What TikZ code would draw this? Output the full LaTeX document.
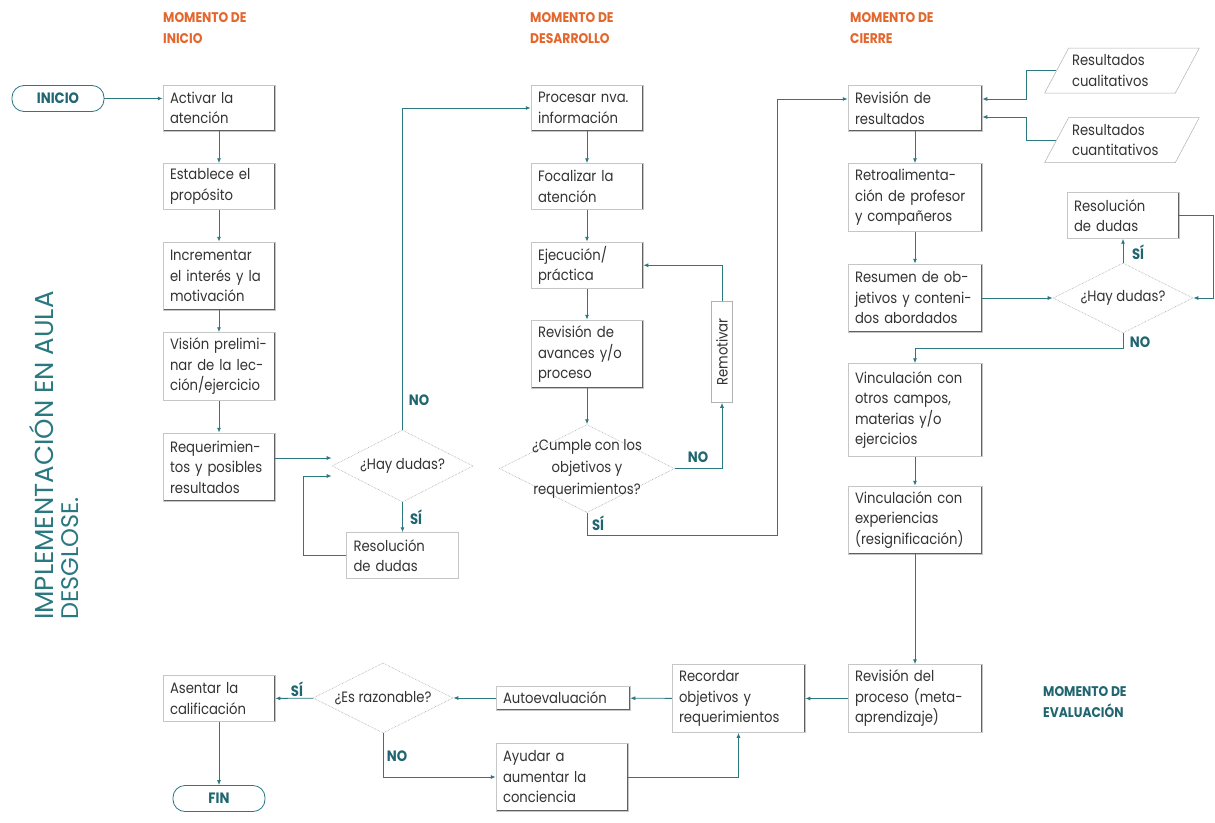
\documentclass[tikz,border=0pt]{standalone}
\usepackage{fontspec}
\setmainfont{Poppins}[FakeStretch=0.88]
\newfontfamily\titulofont{Poppins}
\usetikzlibrary{positioning,shapes.geometric,arrows.meta}

\definecolor{verdeazul}{HTML}{2A7880}
\definecolor{verdeosc}{HTML}{1F6670}
\definecolor{naranja}{HTML}{E4662C}

\newcommand{\cuerpo}{\fontsize{15}{20.5}\selectfont}

\tikzset{
  paso/.style={rectangle, draw=gray!45, line width=0.5pt, text width=#1,
    align=left, inner xsep=7pt, inner ysep=4pt, minimum height=46pt,
    font=\cuerpo, text=black!80,
    path picture={\draw[gray!75!black, line width=1.6pt]
      (path picture bounding box.north east) --
      (path picture bounding box.south east) --
      (path picture bounding box.south west);}},
  paso/.default=98pt,
  tres/.style={minimum height=68pt},
  cuatro/.style={minimum height=93pt},
  decision/.style={diamond, draw=gray!70, densely dotted, line width=0.6pt,
    inner sep=0pt},
  pregunta/.style={font=\cuerpo, align=center, text=black!80},
  terminal/.style={rectangle, rounded corners=12pt, draw=verdeazul,
    line width=0.8pt, minimum width=92pt, minimum height=26pt,
    font=\fontsize{15}{16}\selectfont\bfseries, text=verdeosc},
  datos/.style={trapezium, trapezium left angle=58, trapezium right angle=122,
    draw=gray!60, line width=0.5pt, minimum width=140pt, minimum height=45pt,
    text width=100pt, align=left, font=\cuerpo, text=black!80,
    trapezium stretches=true},
  etiq/.style={font=\fontsize{15}{16}\selectfont\bfseries, text=verdeosc},
  momento/.style={anchor=north west, align=left, inner sep=0pt,
    font=\fontsize{14}{21}\selectfont\bfseries, text=naranja},
  linea/.style={draw=verdeazul, line width=0.9pt},
}

\begin{document}
\begin{tikzpicture}[x=1pt, y=-1pt, >={Latex[length=5pt,width=4pt]}]
    \fill[white] (0,0) rectangle (1215,822);

    % titulo lateral
    \node (titulo) [rotate=90, anchor=base west, inner sep=0pt,
      font=\titulofont\fontsize{26}{26}\selectfont, text=verdeazul] at (53,620) {IMPLEMENTACIÓN EN AULA};
    \node (desglose) [rotate=90, anchor=base west, inner sep=0pt,
      font=\titulofont\fontsize{24}{24}\selectfont, text=verdeazul] at (78,620) {DESGLOSE.};

    % momentos
    \node (inicioM) [momento] at (163,12) {MOMENTO DE\\INICIO};
    \node (desarrolloM) [momento] at (530,12) {MOMENTO DE\\DESARROLLO};
    \node (cierreM) [momento] at (850,12) {MOMENTO DE\\CIERRE};
    \node (evaluacionM) [momento, text=verdeosc] at (1043,686) {MOMENTO DE\\EVALUACIÓN};

    % momento de inicio
    \node (inicio) [terminal] at (58,98.5) {INICIO};
    \node (activar) [paso] at (219,108) {Activar la\\atención};
    \node (establece) [paso, below=32pt of activar] {Establece el\\propósito};
    \node (incrementar) [paso, tres, below=32pt of establece] {Incrementar\\el interés y la\\motivación};
    \node (vision) [paso, tres, below=22pt of incrementar] {Visión prelimi-\\nar de la lec-\\ción/ejercicio};
    \node (requer) [paso, tres, below=32pt of vision] {Requerimien-\\tos y posibles\\resultados};
    \node (dudasA) [decision, minimum width=141pt, minimum height=72pt,
      label={[pregunta]center:¿Hay dudas?}] at (402.5,466) {};
    \node (resolA) [paso, below=30pt of dudasA] {Resolución\\de dudas};

    % momento de desarrollo
    \node (procesar) [paso] at (587,108) {Procesar nva.\\información};
    \node (focalizar) [paso, below=32pt of procesar] {Focalizar la\\atención};
    \node (ejecucion) [paso, below=32pt of focalizar] {Ejecución/\\práctica};
    \node (revav) [paso, tres, below=31pt of ejecucion] {Revisión de\\avances y/o\\proceso};
    \node (cumple) [decision, minimum width=175pt, minimum height=88pt,
      below=36pt of revav,
      label={[pregunta, font=\fontsize{15}{22}\selectfont]center:{¿Cumple con los\\objetivos y\\requerimientos?}}] {};
    \node (remotivar) [rotate=90, draw=gray!60, line width=0.5pt, minimum width=101pt,
      minimum height=21pt, inner sep=2pt, font=\cuerpo, text=black!80] at (722,352) {Remotivar};

    % momento de cierre
    \node (revres) [paso=120pt] at (915,108) {Revisión de\\resultados};
    \node (retro) [paso=120pt, tres, below=32pt of revres] {Retroalimenta-\\ción de profesor\\y compañeros};
    \node (resumen) [paso=120pt, tres, below=32pt of retro] {Resumen de ob-\\jetivos y conteni-\\dos abordados};
    \node (vinc1) [paso=120pt, cuatro, below=31pt of resumen] {Vinculación con\\otros campos,\\materias y/o\\ejercicios};
    \node (vinc2) [paso=120pt, tres, below=29pt of vinc1] {Vinculación con\\experiencias\\(resignificación)};
    \node (cualit) [datos] at (1122,70.5) {Resultados\\cualitativos};
    \node (cuantit) [datos, below=24pt of cualit] {Resultados\\cuantitativos};
    \node (dudasB) [decision, minimum width=140pt, minimum height=70pt,
      label={[pregunta]center:¿Hay dudas?}] at (1123,298) {};
    \node (resolB) [paso, above=24pt of dudasB] {Resolución\\de dudas};

    % momento de evaluacion
    \node (revproc) [paso=120pt, tres] at (915,698.5) {Revisión del\\proceso (meta-\\aprendizaje)};
    \node (recordar) [paso=119pt, tres] at (738.5,698.5) {Recordar\\objetivos y\\requerimientos};
    \node (autoeval) [paso=120pt, minimum height=24pt, inner ysep=2pt] at (563,698) {Autoevaluación};
    \node (razonable) [decision, minimum width=140pt, minimum height=70pt,
      label={[pregunta]center:¿Es razonable?}] at (383,698) {};
    \node (ayudar) [paso=118pt, tres] at (562,777) {Ayudar a\\aumentar la\\conciencia};
    \node (asentar) [paso] at (219,698.5) {Asentar la\\calificación};
    \node (fin) [terminal] at (219,798.5) {FIN};

    % etiquetas
    \node (noA) [etiq] at (419,400) {NO};
    \node (siA) [etiq] at (416,517) {SÍ};
    \node (noC) [etiq] at (698,457) {NO};
    \node (siC) [etiq] at (598,523) {SÍ};
    \node (siB) [etiq] at (1138,252) {SÍ};
    \node (noB) [etiq] at (1140,342) {NO};
    \node (siR) [etiq] at (297,689) {SÍ};
    \node (noR) [etiq] at (397,756) {NO};
    \coordinate (giro) at (777,535);

    \draw[->, linea] (inicio) -- (inicio -| activar.west);
    \draw[->, linea] (activar) -- (establece);
    \draw[->, linea] (establece) -- (incrementar);
    \draw[->, linea] (incrementar) -- (vision);
    \draw[->, linea] (vision) -- (requer);
    \draw[->, linea] ([yshift=9pt]requer.east) -- ([yshift=9pt]requer.east -| dudasA.west);
    \draw[->, linea] (dudasA) -- (resolA);
    \draw[->, linea] (resolA.west) -- ++(-43,0) |- ([yshift=-10pt]dudasA.west);
    \draw[->, linea] (dudasA.north) |- (procesar.west);

    \draw[->, linea] (procesar) -- (focalizar);
    \draw[->, linea] (focalizar) -- (ejecucion);
    \draw[->, linea] (ejecucion) -- (revav);
    \draw[->, linea] (revav) -- (cumple);
    \draw[->, linea] (cumple.east) -| (remotivar.west);
    \draw[->, linea] (remotivar.east) |- (ejecucion.east);
    \draw[->, linea] (cumple.south) |- (giro) |- ([yshift=9pt]revres.west);

    \draw[->, linea] (revres) -- (retro);
    \draw[->, linea] (retro) -- (resumen);
    \draw[->, linea] (cualit.west) -- ++(-30,0) |- ([yshift=9pt]revres.east);
    \draw[->, linea] (cuantit.west) -- ++(-30,0) |- ([yshift=-9pt]revres.east);
    \draw[->, linea] (resumen.east) -- (resumen.east -| dudasB.west);
    \draw[->, linea] (dudasB) -- (resolB);
    \draw[->, linea] (resolB.east) -- ++(34,0) |- (dudasB.east);
    \draw[->, linea] (dudasB.south) -- ++(0,15) -| (vinc1.north);
    \draw[->, linea] (vinc1) -- (vinc2);
    \draw[->, linea] (vinc2) -- (revproc);

    \draw[->, linea] (revproc) -- (recordar);
    \draw[->, linea] (recordar) -- (autoeval);
    \draw[->, linea] (autoeval) -- (razonable);
    \draw[->, linea] (razonable) -- (asentar);
    \draw[->, linea] (razonable.south) |- (ayudar.west);
    \draw[->, linea] (ayudar.east) -| (recordar.south);
    \draw[->, linea] (asentar) -- (fin);
\end{tikzpicture}
\end{document}
